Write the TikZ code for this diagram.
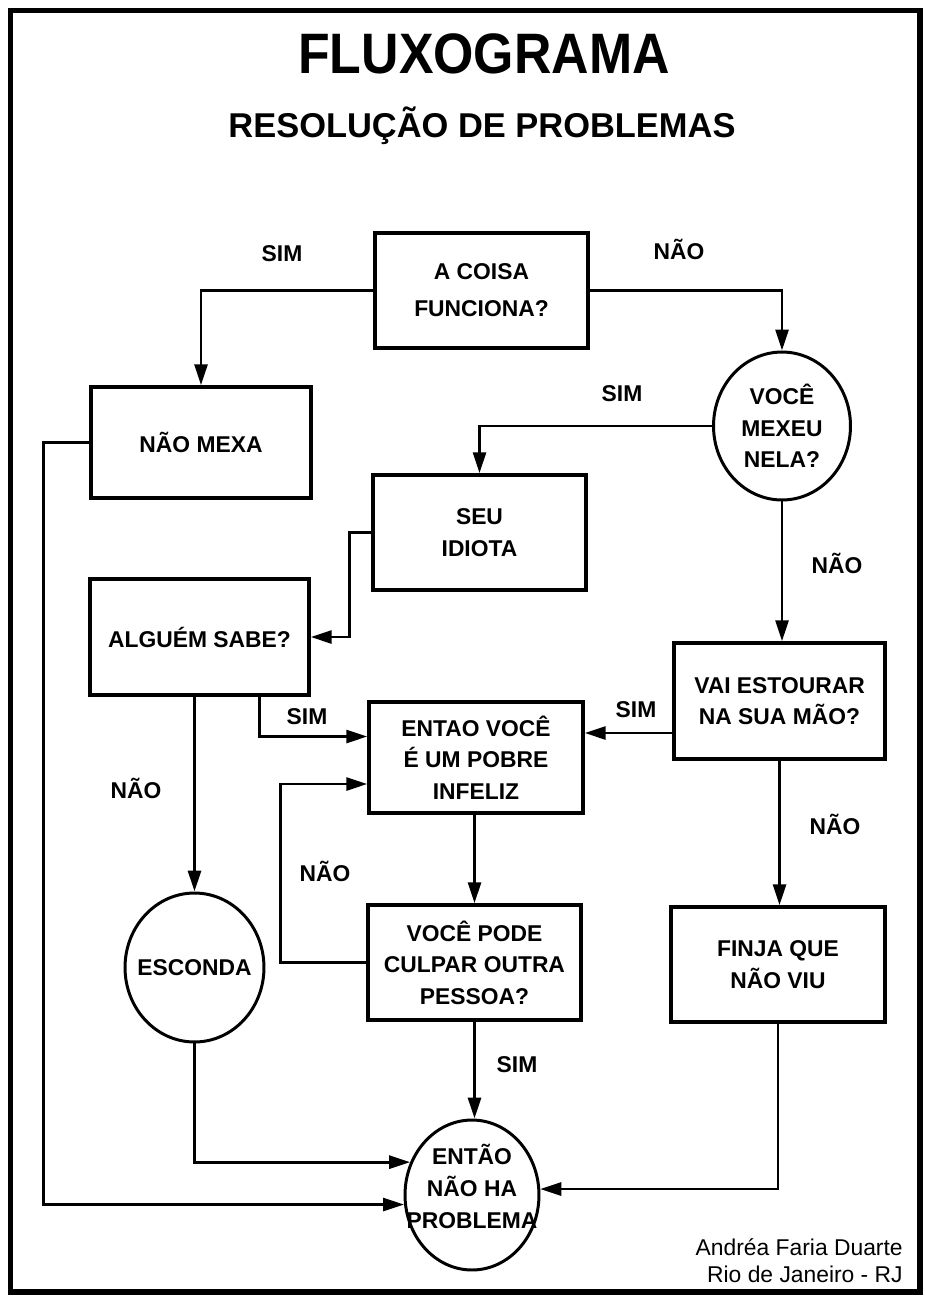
\documentclass[tikz,border=0pt]{standalone}
\usepackage{fontspec}
\setmainfont{Liberation Sans}
\usetikzlibrary{arrows.meta,calc,shapes.geometric}
\newcommand\bxfont{\bfseries\fontsize{13}{18}\selectfont}
\newcommand\zb[1]{\makebox[0pt]{#1}}
\begin{document}
\begin{tikzpicture}[x=0.02cm,y=-0.02cm,
  box/.style={draw,line width=2pt,rectangle,align=center,font=\bxfont,inner sep=0pt},
  oval/.style={draw,line width=1.7pt,ellipse,align=center,font=\bxfont,inner sep=0pt},
  conn/.style={line width=1.6pt,-{Triangle[length=4.2mm,width=2.6mm]}},
  lbl/.style={font=\bxfont,text height=9.3pt,text depth=0pt,inner sep=0pt},
  ]
\useasboundingbox (0,0) rectangle (925,1301);
\draw[line width=3pt] (10.5,10.5) rectangle (920,1292);

\node[font=\bfseries\fontsize{29.5}{30}\selectfont,anchor=base] (title) at (484,73) {\scalebox{1}[1.1]{FLUXOGRAMA}};
\node[font=\bfseries\fontsize{19.6}{20}\selectfont,anchor=base] (sub) at (482,137) {RESOLUÇÃO DE PROBLEMAS};

\node[box,minimum width=4.26cm,minimum height=2.3cm] (q1) at (481.5,290.5) {A COISA\\[3pt]FUNCIONA?};
\node[box,minimum width=4.4cm,minimum height=2.22cm] (naomexa) at (201,442.5) {NÃO MEXA};
\node[oval,minimum width=2.74cm,minimum height=2.96cm] (c1) at (782,426) {\zb{VOCÊ}\\\zb{MEXEU}\\\zb{NELA?}};
\node[box,minimum width=4.26cm,minimum height=2.3cm] (seu) at (479.5,532.5) {SEU\\IDIOTA};
\node[box,minimum width=4.38cm,minimum height=2.32cm] (alguem) at (199.5,637) {ALGUÉM SABE?};
\node[box,minimum width=4.22cm,minimum height=2.32cm] (vai) at (779.5,701) {VAI ESTOURAR\\NA SUA MÃO?};
\node[box,minimum width=4.28cm,minimum height=2.22cm] (entao) at (476,757.5) {ENTAO VOCÊ\\É UM POBRE\\INFELIZ};
\node[oval,minimum width=2.78cm,minimum height=2.98cm] (esconda) at (194.5,967.5) {\zb{ESCONDA}};
\node[box,minimum width=4.26cm,minimum height=2.3cm] (pode) at (474.5,962.5) {VOCÊ PODE\\CULPAR OUTRA\\PESSOA?};
\node[box,minimum width=4.28cm,minimum height=2.3cm] (finja) at (778,964.5) {FINJA QUE\\NÃO VIU};
\node[oval,minimum width=2.68cm,minimum height=3.0cm] (fim) at (472,1195) {\zb{ENTÃO}\\\zb{NÃO HA}\\\zb{PROBLEMA}\\[-8pt]\zb{}};

\draw[conn] (q1.west) -| (naomexa);
\draw[conn] (q1.east) -| (c1);
\draw[conn] (c1.west) -| (seu);
\draw[conn] (c1.south) -- (c1.south |- vai.north);
\draw[conn] (seu.west) -- ++(-22,0) |- (alguem.east);
\coordinate (a1) at ($(alguem.south)+(60,0)$);
\draw[conn] (a1) |- ($(entao.west)+(0,-21)$);
\draw[conn] (esconda |- alguem.south) -- (esconda);
\coordinate (v1) at ($(vai.west)+(0,32)$);
\draw[conn] (v1) -- (v1 -| entao.east);
\draw[conn] (entao.south -| pode) -- (pode);
\draw[conn] (pode.west) -- ++(-86,0) |- ($(entao.west)+(0,26.5)$);
\draw[conn] (pode.south) -- (pode.south |- fim.north);
\draw[conn] (vai.south) -- (vai.south |- finja.north);
\draw[conn] (esconda.south) |- (fim.152);
\draw[conn] (finja.south) |- (fim.5);
\draw[conn] (naomexa.west) -- ++(-46,0) |- (fim.188);

\node[lbl] (l1) at (282,253) {SIM};
\node[lbl] (l2) at (679,251) {NÃO};
\node[lbl] (l3) at (622,393) {SIM};
\node[lbl] (l4) at (837,565) {NÃO};
\node[lbl] (l5) at (636,709) {SIM};
\node[lbl] (l6) at (307,716) {SIM};
\node[lbl] (l7) at (136,790) {NÃO};
\node[lbl] (l8) at (325,873) {NÃO};
\node[lbl] (l9) at (835,826) {NÃO};
\node[lbl] (l10) at (517,1064) {SIM};

\node[font=\fontsize{13}{15}\selectfont,anchor=base east,inner sep=0pt] (cr1) at (903,1255) {Andréa Faria Duarte};
\node[font=\fontsize{13}{15}\selectfont,anchor=base east,inner sep=0pt] (cr2) at (903,1282) {Rio de Janeiro - RJ};
\end{tikzpicture}
\end{document}
